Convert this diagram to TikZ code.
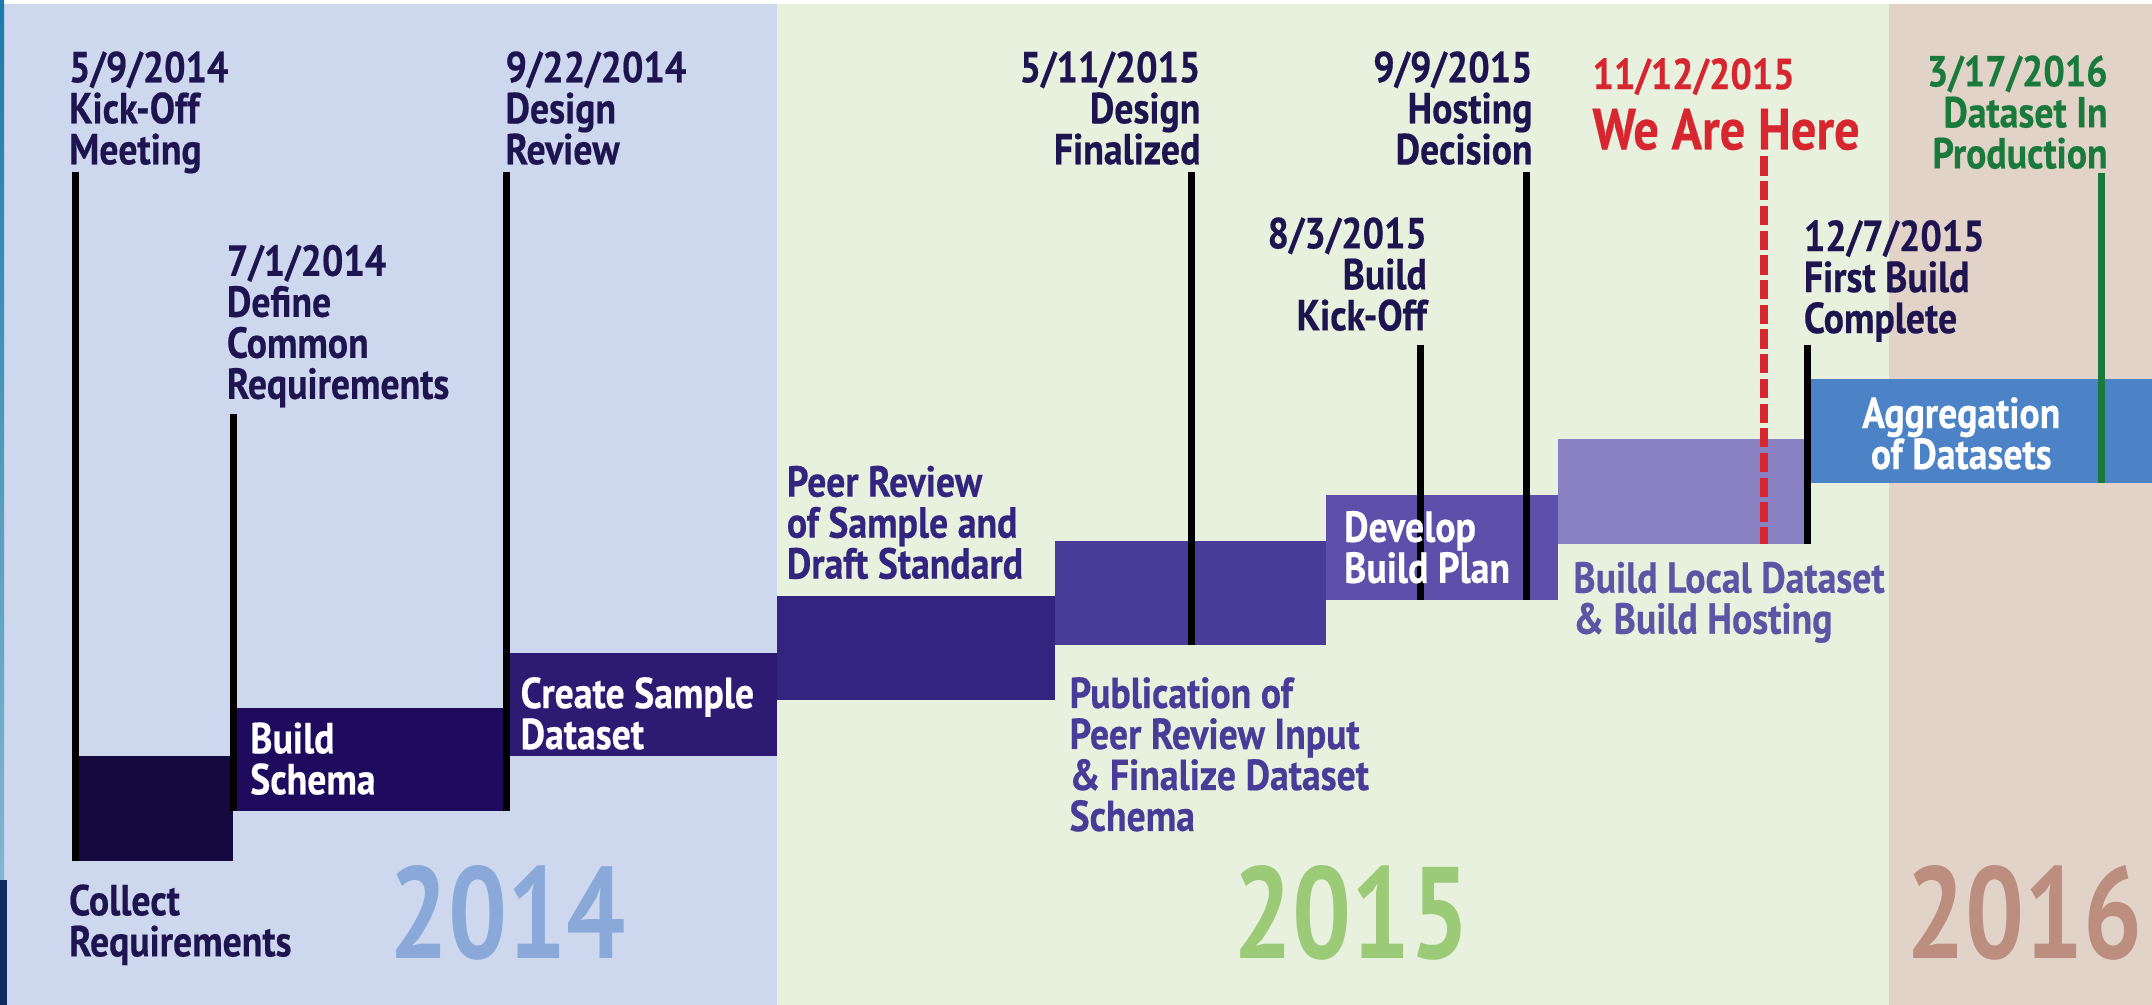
\documentclass[tikz,border=0pt]{standalone}
\usepackage{fontspec}
\setmainfont{PT Sans}[FakeStretch=0.87,BoldFeatures={FakeBold=0.4}]
\newfontfamily\yearfont{PT Sans}[FakeStretch=0.8]
\usetikzlibrary{positioning}

% panel and phase colours
\definecolor{panelA}{HTML}{CDD8EF}
\definecolor{panelB}{HTML}{E7F1DD}
\definecolor{panelC}{HTML}{E2D3C9}
\definecolor{ink}{HTML}{1E1450}
\definecolor{phaseA}{HTML}{140A3E}
\definecolor{phaseB}{HTML}{1F0B5E}
\definecolor{phaseC}{HTML}{2D1B73}
\definecolor{phaseD}{HTML}{33247F}
\definecolor{phaseE}{HTML}{483C98}
\definecolor{phaseF}{HTML}{5E50AA}
\definecolor{phaseG}{HTML}{8981C2}
\definecolor{phaseH}{HTML}{4C82C6}
\definecolor{localtxt}{HTML}{5B55A6}
\definecolor{nowred}{HTML}{D7262F}
\definecolor{prodgreen}{HTML}{1A7A3C}
\definecolor{yearA}{HTML}{8AA9D9}
\definecolor{yearB}{HTML}{9CCB78}
\definecolor{yearC}{HTML}{BB8E7F}
\definecolor{edgeblue}{HTML}{1B7BA8}
\definecolor{edgenavy}{HTML}{102B5E}

\begin{document}
\begin{tikzpicture}[x=0.2mm,y=-0.2mm,
  txt/.style={inner sep=0pt,font=\bfseries\fontsize{18}{17}\selectfont},
  date/.style={txt,text=ink,align=left,anchor=north west},
  dater/.style={txt,text=ink,align=right,anchor=north east},
  inbar/.style={txt,text=white,align=left,anchor=north west},
  tick/.style={line width=1mm,black},
  year/.style={inner sep=0pt,anchor=north,font=\yearfont\bfseries\fontsize{54}{54}\selectfont}]

\useasboundingbox (0,0) rectangle (1568,732);

% Year panels
\fill[white] (0,0) rectangle (1568,732);
\fill[panelA] (0,3) rectangle (566,732);
\fill[panelB] (566,3) rectangle (1376,732);
\fill[panelC] (1376,3) rectangle (1568,732);

% Left edge
\shade[top color=edgeblue,bottom color=edgeblue!55!white] (0,0) rectangle (3,641);
\fill[edgenavy] (0,641) rectangle (5,732);

% Years
\node[year,text=yearA] (y2014) at (370,630) {2014};
\node[year,text=yearB] (y2015) at (985,630) {2015};
\node[year,text=yearC] (y2016) at (1475,630) {2016};

% Phase bars
\fill[phaseA] (55,551) rectangle (170,627);
\fill[phaseB] (170,516) rectangle (370,591);
\fill[phaseC] (370,476) rectangle (566,551);
\fill[phaseD] (566,434) rectangle (769,510);
\fill[phaseE] (769,394) rectangle (966,470);
\fill[phaseF] (966,361) rectangle (1135,437);
\fill[phaseG] (1135,320) rectangle (1318,396);
\fill[phaseH] (1318,276) rectangle (1568,352);

% Milestone ticks
\coordinate (kickoff top) at (55,125);
\coordinate (kickoff end) at (55,627);
\coordinate (define top) at (170,302);
\coordinate (define end) at (170,591);
\coordinate (review top) at (369,125);
\coordinate (review end) at (369,591);
\coordinate (final top) at (868,125);
\coordinate (final end) at (868,470);
\coordinate (buildko top) at (1035,251);
\coordinate (buildko end) at (1035,437);
\coordinate (hosting top) at (1112,125);
\coordinate (hosting end) at (1112,437);
\coordinate (first top) at (1317,251);
\coordinate (first end) at (1317,396);
\coordinate (now top) at (1285,114);
\coordinate (now end) at (1285,396);
\coordinate (prod top) at (1531,126);
\coordinate (prod end) at (1531,352);

\draw[tick] (kickoff top) -- (kickoff end);
\draw[tick] (define top) -- (define end);
\draw[tick] (review top) -- (review end);
\draw[tick] (final top) -- (final end);
\draw[tick] (buildko top) -- (buildko end);
\draw[tick] (hosting top) -- (hosting end);
\draw[tick] (first top) -- (first end);
\draw[tick,prodgreen] (prod top) -- (prod end);
\draw[nowred,line width=1.2mm,dash pattern=on 2.8mm off 0.8mm] (now top) -- (now end);

% Milestone labels
\node[date] (kickoff) at (50,37) {5/9/2014\\Kick-Off\\Meeting};
\node[date] (define) at (165,178) {7/1/2014\\Define\\Common\\Requirements};
\node[date] (review) at (368,37) {9/22/2014\\Design\\Review};
\node[dater] (final) at (875,37) {5/11/2015\\Design\\Finalized};
\node[dater] (buildko) at (1040,158) {8/3/2015\\Build\\Kick-Off};
\node[dater] (hosting) at (1117,37) {9/9/2015\\Hosting\\Decision};
\node[date] (first) at (1314,160) {12/7/2015\\First Build\\Complete};
\node[dater,text=prodgreen] (prod) at (1536,40) {3/17/2016\\Dataset In\\Production};

% Today
\node[txt,text=nowred,anchor=north west] (nowdate) at (1160,42) {11/12/2015};
\node[txt,text=nowred,font=\bfseries\fontsize{24}{24}\selectfont,
  below=1.8mm of nowdate.south west,anchor=north west] (nowlbl) {We Are Here};

% Phase labels
\node[date] (collectlbl) at (50,644) {Collect\\Requirements};
\node[inbar] (schemalbl) at (182,526) {Build\\Schema};
\node[inbar] (samplelbl) at (379,493) {Create Sample\\Dataset};
\node[date,text=phaseD] (peerlbl) at (573,339) {Peer Review\\of Sample and\\Draft Standard};
\node[date,text=phaseE] (publlbl) at (779,493) {Publication of\\Peer Review Input\\\& Finalize Dataset\\Schema};
\node[inbar] (planlbl) at (979,372) {Develop\\Build Plan};
\node[date,text=localtxt] (locallbl) at (1146,409) {Build Local Dataset\\\& Build Hosting};
\node[inbar,align=center,anchor=north] (aggrlbl) at (1429,289) {Aggregation\\of Datasets};

\end{tikzpicture}
\end{document}
